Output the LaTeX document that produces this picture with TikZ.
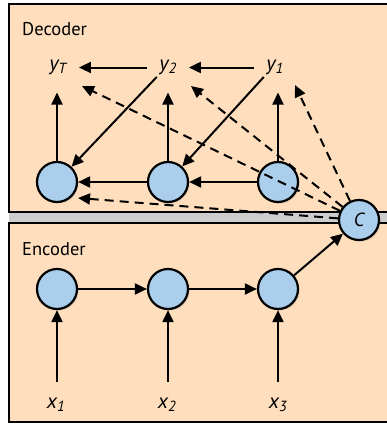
\documentclass[tikz,border=0pt]{standalone}
\usepackage{fontspec}
\setmainfont{PT Sans}
\usetikzlibrary{arrows.meta,calc,shadows}
\definecolor{peach}{RGB}{254,222,188}
\definecolor{nodeblue}{RGB}{170,206,236}
\definecolor{band}{RGB}{205,205,205}
\begin{document}
\begin{tikzpicture}[x=1pt,y=-1pt,
  cell/.style={circle,draw,line width=2.2pt,fill=nodeblue,minimum size=40pt,inner sep=0pt,
    drop shadow={shadow xshift=1.5pt,shadow yshift=-1.5pt,opacity=0.25}},
  arr/.style={line width=2pt,-{Triangle[length=12pt,width=11pt]}},
  darr/.style={arr,dash pattern=on 9pt off 6pt},
  lbl/.style={font=\fontsize{21}{21}\selectfont\itshape,inner sep=1pt,anchor=base},
  title/.style={font=\fontsize{18.5}{18.5}\selectfont,anchor=base west,inner sep=0pt},
  boxfill/.style={fill=peach,draw,line width=2.4pt}]
\useasboundingbox (0,0) rectangle (386,434);
% boxes
\fill[band] (9,212) rectangle (395,223);
\draw[boxfill] (9,4) rectangle (395,212);
\draw[boxfill] (9,223) rectangle (395,422);
\node[title] (dec) at (22,35) {Decoder};
\node[title] (enc) at (22,255) {Encoder};
% labels
\node[lbl] (yT) at (58,70) {y\textsubscript{T}};
\node[lbl] (y2) at (168,70) {y\textsubscript{2}};
\node[lbl] (y1) at (275,70) {y\textsubscript{1}};
\node[lbl] (x1) at (56,408) {x\textsubscript{1}};
\node[lbl] (x2) at (167,408) {x\textsubscript{2}};
\node[lbl] (x3) at (278,408) {x\textsubscript{3}};
% cells
\node[cell] (d1) at (57,182) {};
\node[cell] (d2) at (168,182) {};
\node[cell] (d3) at (278,182) {};
\node[cell] (e1) at (57,289) {};
\node[cell] (e2) at (168,289) {};
\node[cell] (e3) at (278,289) {};
\node[cell,font=\fontsize{19}{19}\selectfont\itshape] (C) at (359,220) {C};
% free ends of the dashed arrows
\coordinate (aT) at (82,86);
\coordinate (a2) at (191,86);
\coordinate (a1) at (295,85);
\coordinate (ad1) at (78,198);
% decoder solid arrows
\draw[arr,shorten <=11pt,shorten >=11pt] (y2.mid west) -- (yT.mid east);
\draw[arr,shorten <=11pt,shorten >=11pt] (y1.mid west) -- (y2.mid east);
\draw[arr,shorten >=17pt] (d1) -- (d1 |- yT.south);
\draw[arr,shorten >=17pt] (d2) -- (d2 |- y2.south);
\draw[arr,shorten >=17pt] (d3) -- (d3 |- y1.south);
\draw[arr,shorten <=2pt] (y2.south west) -- (d1);
\draw[arr,shorten <=2pt] (y1.south west) -- (d2);
\draw[arr] (d3) -- (d2);
\draw[arr] (d2) -- (d1);
% dashed context arrows
\draw[darr] (C) -- (aT);
\draw[darr] (C) -- (a2);
\draw[darr] (C) -- (a1);
\draw[darr] (C) -- (ad1);
% encoder arrows
\draw[arr] (e1) -- (e2);
\draw[arr] (e2) -- (e3);
\draw[arr] (e3) -- (C);
\draw[arr,shorten <=14pt] (e1 |- x1.north) -- (e1);
\draw[arr,shorten <=14pt] (e2 |- x2.north) -- (e2);
\draw[arr,shorten <=14pt] (e3 |- x3.north) -- (e3);
\end{tikzpicture}
\end{document}
